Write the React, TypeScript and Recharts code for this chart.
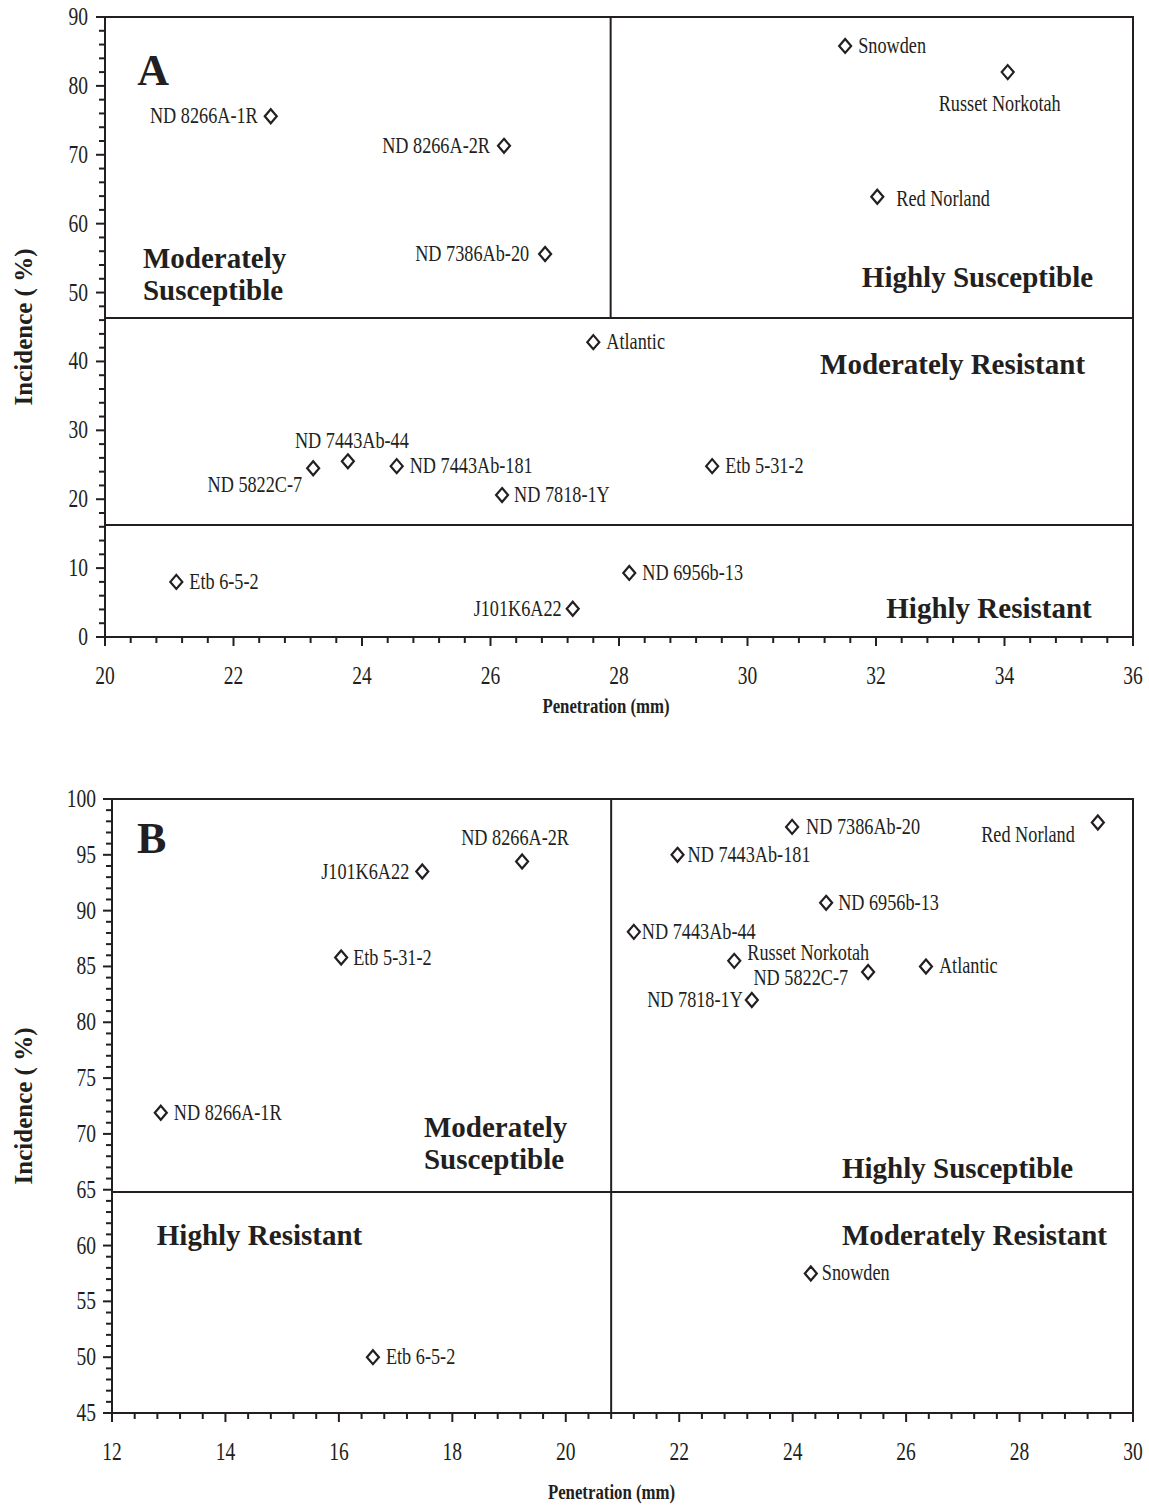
import React from 'react';
import { ScatterChart, Scatter, XAxis, YAxis, ReferenceLine, ReferenceArea } from 'recharts';

const INK = '#231f20';
const SERIF = '"Liberation Serif", "Times New Roman", serif';

// ---- Panel A: penetration vs incidence ----
const cultivarsA = [
  'ND 8266A-1R', 'ND 8266A-2R', 'ND 7386Ab-20', 'Snowden', 'Russet Norkotah',
  'Red Norland', 'Atlantic', 'ND 7443Ab-44', 'ND 5822C-7', 'ND 7443Ab-181',
  'ND 7818-1Y', 'Etb 5-31-2', 'Etb 6-5-2', 'ND 6956b-13', 'J101K6A22',
];
const penetrationA = [22.58, 26.21, 26.85, 31.52, 34.05, 32.02, 27.6, 23.78, 23.24, 24.54, 26.18, 29.45, 21.11, 28.16, 27.28];
const incidenceA = [75.6, 71.3, 55.6, 85.8, 82.0, 63.9, 42.8, 25.5, 24.5, 24.8, 20.6, 24.8, 8.0, 9.3, 4.1];

const xMajorA = [20, 22, 24, 26, 28, 30, 32, 34, 36];
const yMajorA = [0, 10, 20, 30, 40, 50, 60, 70, 80, 90];

const regionTextA = [['Moderately', 'Susceptible'], ['Highly Susceptible'], ['Moderately Resistant'], ['Highly Resistant']];
const regionXA = [20.59, 31.78, 31.13, 32.16];
const regionYA = [53.6, 50.8, 38.2, 2.8];

// thresholds separating the groups
const splitXA = 27.87;
const splitYA = [46.3, 16.26];

// ---- Panel B ----
const cultivarsB = [
  'ND 8266A-1R', 'J101K6A22', 'ND 8266A-2R', 'Etb 5-31-2', 'Etb 6-5-2',
  'ND 7386Ab-20', 'Red Norland', 'ND 7443Ab-181', 'ND 6956b-13', 'ND 7443Ab-44',
  'Russet Norkotah', 'ND 5822C-7', 'Atlantic', 'ND 7818-1Y', 'Snowden',
];
const penetrationB = [12.86, 17.47, 19.23, 16.04, 16.6, 23.99, 29.38, 21.97, 24.59, 21.2, 22.97, 25.33, 26.35, 23.28, 24.32];
const incidenceB = [71.9, 93.5, 94.4, 85.8, 50.0, 97.5, 97.9, 95.0, 90.7, 88.1, 85.5, 84.5, 85.0, 82.0, 57.5];

const xMajorB = [12, 14, 16, 18, 20, 22, 24, 26, 28, 30];
const yMajorB = [45, 50, 55, 60, 65, 70, 75, 80, 85, 90, 95, 100];

const regionTextB = [['Moderately', 'Susceptible'], ['Highly Susceptible'], ['Highly Resistant'], ['Moderately Resistant']];
const regionXB = [17.5, 24.87, 12.79, 24.87];
const regionYB = [69.7, 66.05, 60.05, 60.05];

const splitXB = 20.8;
const splitYB = 64.8;

type Placement = { dx: number; dy: number; anchor: 'start' | 'middle' | 'end' };
const R = (dx: number, dy = 7): Placement => ({ dx, dy, anchor: 'start' });
const L = (dx: number, dy = 7): Placement => ({ dx, dy, anchor: 'end' });
const M = (dx: number, dy: number): Placement => ({ dx, dy, anchor: 'middle' });

const placeA: Record<string, Placement> = {
  'ND 8266A-1R': L(-13),
  'ND 8266A-2R': L(-14),
  'ND 7386Ab-20': L(-16),
  Snowden: R(13),
  'Russet Norkotah': M(-8, 39),
  'Red Norland': R(19, 9),
  Atlantic: R(13),
  'ND 7443Ab-44': M(4, -13),
  'ND 5822C-7': L(-11, 24),
  'ND 7443Ab-181': R(13),
  'ND 7818-1Y': R(12),
  'Etb 5-31-2': R(13),
  'Etb 6-5-2': R(13),
  'ND 6956b-13': R(13),
  J101K6A22: L(-11),
};

const placeB: Record<string, Placement> = {
  'ND 8266A-1R': R(13),
  J101K6A22: L(-13),
  'ND 8266A-2R': M(-7, -17),
  'Etb 5-31-2': R(12),
  'Etb 6-5-2': R(13),
  'ND 7386Ab-20': R(14),
  'Red Norland': L(-23, 20),
  'ND 7443Ab-181': R(10),
  'ND 6956b-13': R(12),
  'ND 7443Ab-44': R(8),
  'Russet Norkotah': R(13, -1),
  'ND 5822C-7': L(-20, 13),
  Atlantic: R(13),
  'ND 7818-1Y': L(-9),
  Snowden: R(11),
};

const buildTicks = (majors: number[], perMajor: number) => {
  const out: number[] = [];
  for (let i = 0; i < majors.length - 1; i++) {
    const step = (majors[i + 1] - majors[i]) / perMajor;
    for (let j = 0; j < perMajor; j++) out.push(Math.round((majors[i] + j * step) * 100) / 100);
  }
  out.push(majors[majors.length - 1]);
  return out;
};

const isMajor = (v: number, majors: number[]) => majors.some((m) => Math.abs(m - v) < 1e-6);

const makeXTick = (majors: number[]) => (props: any) => {
  const { x, y, payload } = props;
  const major = isMajor(payload.value, majors);
  return (
    <g>
      <line x1={x} x2={x} y1={y} y2={y + (major ? 9 : 6)} stroke={INK} strokeWidth={2} />
      {major && (
        <text transform={`translate(${x},${y + 47}) scale(0.78,1)`} textAnchor="middle" fontFamily={SERIF} fontSize={25} fill={INK}>
          {payload.value}
        </text>
      )}
    </g>
  );
};

const makeYTick = (majors: number[], gap: number) => (props: any) => {
  const { x, y, payload } = props;
  const major = isMajor(payload.value, majors);
  return (
    <g>
      <line x1={x - (major ? 9 : 6)} x2={x} y1={y} y2={y} stroke={INK} strokeWidth={2} />
      {major && (
        <text transform={`translate(${x - gap},${y + 8}) scale(0.78,1)`} textAnchor="end" fontFamily={SERIF} fontSize={25} fill={INK}>
          {payload.value}
        </text>
      )}
    </g>
  );
};

const makePoint = (place: Record<string, Placement>) => (props: any) => {
  const { cx, cy, payload } = props;
  const p = place[payload.name] || R(13);
  return (
    <g>
      <path d={`M${cx},${cy - 7} L${cx + 6},${cy} L${cx},${cy + 7} L${cx - 6},${cy} Z`} fill="#fff" stroke={INK} strokeWidth={2.2} />
      <text transform={`translate(${cx + p.dx},${cy + p.dy}) scale(0.76,1)`} textAnchor={p.anchor} fontFamily={SERIF} fontSize={24} fill={INK}>
        {payload.name}
      </text>
    </g>
  );
};

const RegionText = (props: any) => {
  const { cx, cy, payload } = props;
  return (
    <text x={cx} y={cy} fontFamily={SERIF} fontWeight="bold" fontSize={payload.big ? 44 : 29} fill={INK}>
      {payload.lines.map((ln: string, i: number) => (
        <tspan key={i} x={cx} dy={i === 0 ? 0 : 32}>{ln}</tspan>
      ))}
    </text>
  );
};

const xTitle = (shift: number, drop: number) => (props: any) => {
  const vb = props.viewBox;
  return (
    <text transform={`translate(${vb.x + vb.width / 2 + shift},${vb.y + drop}) scale(0.8,1)`} textAnchor="middle" fontFamily={SERIF} fontWeight="bold" fontSize={21} fill={INK}>
      Penetration (mm)
    </text>
  );
};

const yTitle = (props: any) => {
  const vb = props.viewBox;
  return (
    <text transform={`translate(32,${vb.y + vb.height / 2}) rotate(-90)`} textAnchor="middle" fontFamily={SERIF} fontWeight="bold" fontSize={25} fill={INK}>
      Incidence ( %)
    </text>
  );
};

interface PanelProps {
  letter: string;
  letterPos: [number, number];
  names: string[];
  xs: number[];
  ys: number[];
  xMajor: number[];
  yMajor: number[];
  xMinorPer: number;
  yMinorPer: number;
  regionText: string[][];
  regionX: number[];
  regionY: number[];
  place: Record<string, Placement>;
  width: number;
  height: number;
  margin: { top: number; right: number; bottom: number; left: number };
  yAxisWidth: number;
  xAxisHeight: number;
  yGap: number;
  titleShift: number;
  titleDrop: number;
  children?: React.ReactNode;
}

const Panel: React.FC<PanelProps> = (p) => {
  const points = p.names.map((name, i) => ({ name, x: p.xs[i], y: p.ys[i] }));
  const regions = [
    { lines: [p.letter], x: p.letterPos[0], y: p.letterPos[1], big: true },
    ...p.regionText.map((lines, i) => ({ lines, x: p.regionX[i], y: p.regionY[i], big: false })),
  ];
  const xDom = [p.xMajor[0], p.xMajor[p.xMajor.length - 1]];
  const yDom = [p.yMajor[0], p.yMajor[p.yMajor.length - 1]];
  return (
    <ScatterChart width={p.width} height={p.height} margin={p.margin}>
      <XAxis
        type="number"
        dataKey="x"
        domain={xDom}
        ticks={buildTicks(p.xMajor, p.xMinorPer)}
        interval={0}
        tickLine={false}
        axisLine={false}
        tickSize={0}
        tickMargin={0}
        tick={makeXTick(p.xMajor)}
        height={p.xAxisHeight}
        allowDataOverflow
        label={{ content: xTitle(p.titleShift, p.titleDrop) }}
      />
      <YAxis
        type="number"
        dataKey="y"
        domain={yDom}
        ticks={buildTicks(p.yMajor, p.yMinorPer)}
        interval={0}
        tickLine={false}
        axisLine={false}
        tickSize={0}
        tickMargin={0}
        tick={makeYTick(p.yMajor, p.yGap)}
        width={p.yAxisWidth}
        allowDataOverflow
        label={{ content: yTitle }}
      />
      <ReferenceArea x1={xDom[0]} x2={xDom[1]} y1={yDom[0]} y2={yDom[1]} fill="none" stroke={INK} strokeWidth={2} />
      {p.children}
      <Scatter data={regions} shape={RegionText} isAnimationActive={false} />
      <Scatter data={points} shape={makePoint(p.place)} isAnimationActive={false} />
    </ScatterChart>
  );
};

export default function App() {
  return (
    <div style={{ position: 'absolute', left: 0, top: 0, width: 1149, height: 1505, background: '#fff' }}>
      <Panel
        letter="A"
        letterPos={[20.5, 80.1]}
        names={cultivarsA}
        xs={penetrationA}
        ys={incidenceA}
        xMajor={xMajorA}
        yMajor={yMajorA}
        xMinorPer={5}
        yMinorPer={5}
        regionText={regionTextA}
        regionX={regionXA}
        regionY={regionYA}
        place={placeA}
        width={1149}
        height={740}
        margin={{ top: 17, right: 16, bottom: 0, left: 0 }}
        yAxisWidth={105}
        xAxisHeight={103}
        yGap={17}
        titleShift={-13}
        titleDrop={76}
      >
        <ReferenceLine segment={[{ x: splitXA, y: splitYA[0] }, { x: splitXA, y: 90 }]} stroke={INK} strokeWidth={2} />
        <ReferenceLine y={splitYA[0]} stroke={INK} strokeWidth={2} />
        <ReferenceLine y={splitYA[1]} stroke={INK} strokeWidth={2} />
      </Panel>
      <Panel
        letter="B"
        letterPos={[12.44, 95.2]}
        names={cultivarsB}
        xs={penetrationB}
        ys={incidenceB}
        xMajor={xMajorB}
        yMajor={yMajorB}
        xMinorPer={5}
        yMinorPer={5}
        regionText={regionTextB}
        regionX={regionXB}
        regionY={regionYB}
        place={placeB}
        width={1149}
        height={765}
        margin={{ top: 59, right: 16, bottom: 0, left: 0 }}
        yAxisWidth={112}
        xAxisHeight={92}
        yGap={16}
        titleShift={-11}
        titleDrop={86}
      >
        <ReferenceLine x={splitXB} stroke={INK} strokeWidth={2} />
        <ReferenceLine y={splitYB} stroke={INK} strokeWidth={2} />
      </Panel>
    </div>
  );
}
